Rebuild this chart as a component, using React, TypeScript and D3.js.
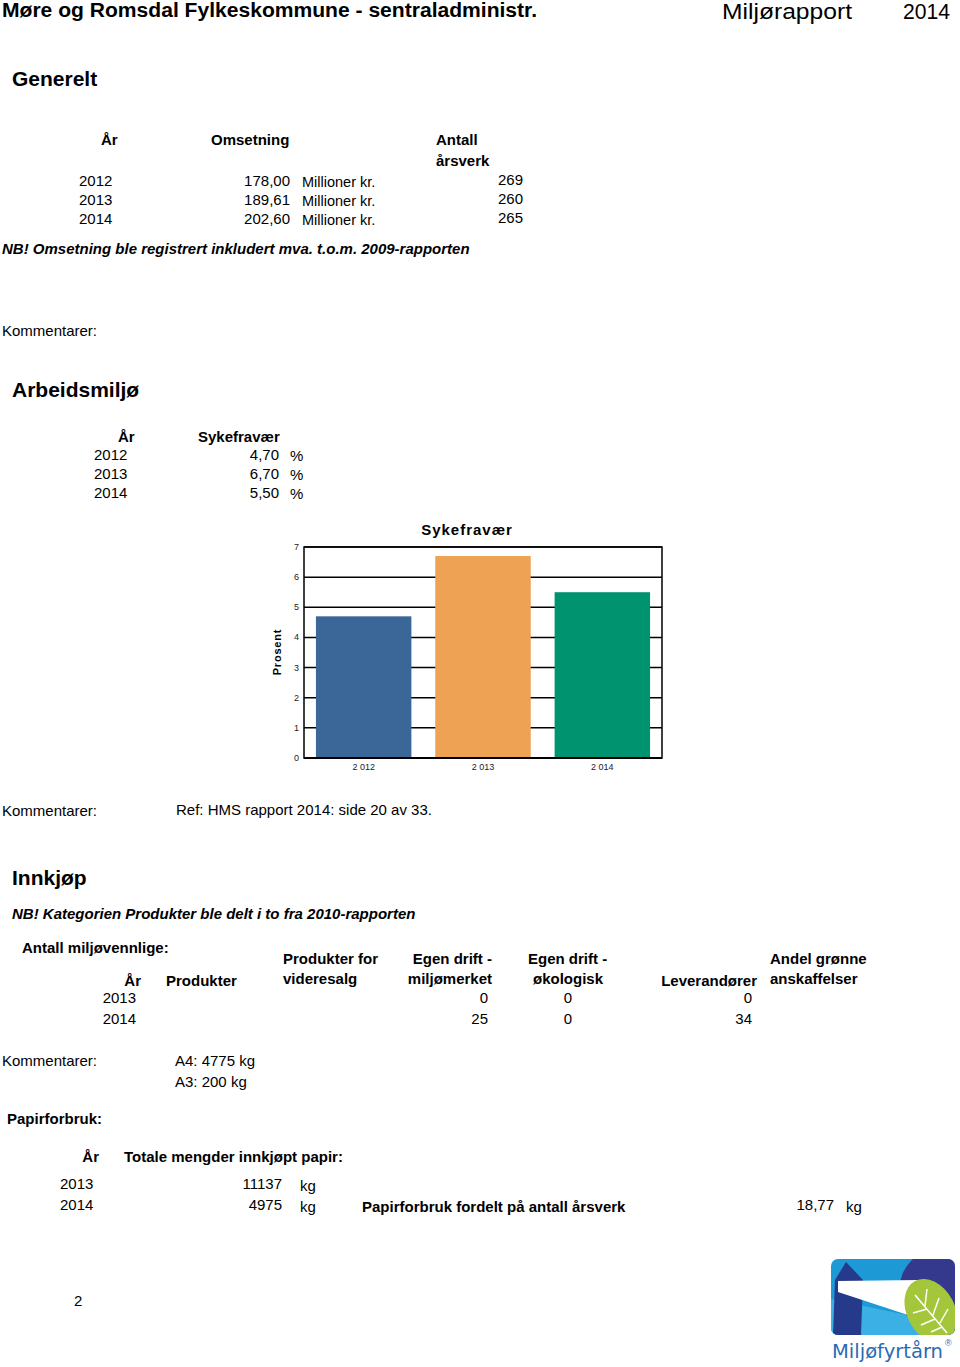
import React from 'react';
import * as d3 from 'd3';

// Sykefravær chart data
const years = [2012, 2013, 2014];
const sickLeave = [4.7, 6.7, 5.5];
const sickLeaveText = ['4,70', '6,70', '5,50'];
const yTicks = [0, 1, 2, 3, 4, 5, 6, 7];
const barColors = ['#3A6698', '#EEA253', '#00936F'];

// Generelt table
const turnover = ['178,00', '189,61', '202,60'];
const fte = [269, 260, 265];

// Innkjøp table
const buyYears = [2013, 2014];
const ecoLabelled = [0, 25];
const organic = [0, 0];
const suppliers = [0, 34];

// Papir
const paperYears = [2013, 2014];
const paperKg = [11137, 4975];
const paperPerFte = '18,77';

const SANS = "'Liberation Sans', Arial, sans-serif";

const spaced = d3.formatLocale({ decimal: ',', thousands: ' ', grouping: [3], currency: ['', ''] }).format(',d');

function T(props: any) {
  const { children, ...rest } = props;
  return (
    <text fontFamily={SANS} fontSize={15} fill="#000" {...rest}>
      {children}
    </text>
  );
}

function SickChart() {
  const left = 304, right = 662, top = 547, bottom = 758;
  const x = d3.scaleBand<number>().domain(years).range([left, right]).paddingInner(0.2).paddingOuter(0.1);
  const y = d3.scaleLinear().domain([0, 7]).range([bottom, top]);

  return (
    <g>
      {yTicks.map((t) => (
        <g key={t}>
          <line x1={left} x2={right} y1={y(t)} y2={y(t)} stroke="#000" strokeWidth={1.5} />
          <text x={left - 5} y={y(t) + 3} fontFamily={SANS} fontSize={9} textAnchor="end" fill="#222">{t}</text>
        </g>
      ))}
      {years.map((yr, i) => (
        <rect key={yr} x={x(yr)} y={y(sickLeave[i])} width={x.bandwidth()} height={bottom - y(sickLeave[i])} fill={barColors[i]} />
      ))}
      <rect x={left} y={top} width={right - left} height={bottom - top} fill="none" stroke="#000" strokeWidth={1.5} />
      <line x1={left} x2={right} y1={bottom} y2={bottom} stroke="#000" strokeWidth={2} />
      {years.map((yr) => (
        <text key={yr} x={(x(yr) as number) + x.bandwidth() / 2} y={770} fontFamily={SANS} fontSize={9} textAnchor="middle" fill="#222">
          {spaced(yr)}
        </text>
      ))}
      <text x={467} y={535} fontFamily={SANS} fontSize={15} fontWeight="bold" letterSpacing={1} textAnchor="middle">Sykefravær</text>
      <text transform="translate(281,652) rotate(-90)" fontFamily={SANS} fontSize={11} fontWeight="bold" letterSpacing={0.8} textAnchor="middle">Prosent</text>
    </g>
  );
}

function Logo() {
  return (
    <g transform="translate(831,1259)">
      <defs>
        <clipPath id="logoClip">
          <rect x={0} y={0} width={124} height={76} rx={7} />
        </clipPath>
      </defs>
      <g clipPath="url(#logoClip)">
        <rect x={0} y={0} width={124} height={76} fill="#1D9AD6" />
        <path d="M0,40 L85,58 L124,60 L124,76 L0,76 Z" fill="#3BB0E5" />
        <circle cx={112} cy={32} r={44} fill="#34398E" />
        <path d="M4,21 L15,3 L32,21 L30,76 L2,76 Z" fill="#253A8A" />
        <path d="M7,22 L88,21 L80,57 L7,33 Z" fill="#FFFFFF" />
        <ellipse cx={100} cy={52} rx={24} ry={34} transform="rotate(-28 100 52)" fill="#A4C63A" />
        <path d="M84,36 L116,74 M94,47 L96,30 M102,56 L108,39 M109,64 L117,50 M96,50 L82,54 M104,60 L90,66 M111,68 L100,73"
          stroke="#fff" strokeWidth={1.5} fill="none" />
      </g>
      <text x={1} y={99} fontFamily="'DejaVu Sans', sans-serif" fontSize={20} fill="#2A6BB3" textLength={111} lengthAdjust="spacingAndGlyphs">Miljøfyrtårn</text>
      <text x={114} y={87} fontFamily={SANS} fontSize={9} fill="#2A6BB3">®</text>
    </g>
  );
}

export default function App() {
  return (
    <svg width={960} height={1367} style={{ position: 'absolute', left: 0, top: 0, background: '#fff' }}>
      {/* header */}
      <T x={2} y={17} fontSize={20} fontWeight="bold" textLength={535} lengthAdjust="spacingAndGlyphs">Møre og Romsdal Fylkeskommune - sentraladministr.</T>
      <T x={722} y={19} fontSize={22} textLength={130} lengthAdjust="spacingAndGlyphs">Miljørapport</T>
      <T x={903} y={19} fontSize={22} textLength={47} lengthAdjust="spacingAndGlyphs">2014</T>

      {/* Generelt */}
      <T x={12} y={86} fontSize={21} fontWeight="bold">Generelt</T>
      <T x={101} y={145} fontWeight="bold">År</T>
      <T x={211} y={145} fontWeight="bold">Omsetning</T>
      <T x={436} y={145} fontWeight="bold">Antall</T>
      <T x={436} y={166} fontWeight="bold">årsverk</T>
      {years.map((yr, i) => (
        <g key={yr}>
          <T x={79} y={186 + i * 19}>{yr}</T>
          <T x={290} y={186 + i * 19} textAnchor="end">{turnover[i]}</T>
          <T x={302} y={187 + i * 19} fontSize={14.5}>Millioner kr.</T>
          <T x={523} y={185 + i * 19} textAnchor="end">{fte[i]}</T>
        </g>
      ))}
      <T x={2} y={254} fontWeight="bold" fontStyle="italic">NB! Omsetning ble registrert inkludert mva. t.o.m. 2009-rapporten</T>

      <T x={2} y={336}>Kommentarer:</T>

      {/* Arbeidsmiljø */}
      <T x={12} y={397} fontSize={21} fontWeight="bold">Arbeidsmiljø</T>
      <T x={118} y={442} fontWeight="bold">År</T>
      <T x={198} y={442} fontWeight="bold">Sykefravær</T>
      {years.map((yr, i) => (
        <g key={yr}>
          <T x={94} y={460 + i * 19}>{yr}</T>
          <T x={279} y={460 + i * 19} textAnchor="end">{sickLeaveText[i]}</T>
          <T x={290} y={461 + i * 19}>%</T>
        </g>
      ))}

      <SickChart />

      <T x={2} y={816}>Kommentarer:</T>
      <T x={176} y={815}>Ref: HMS rapport 2014: side 20 av 33.</T>

      {/* Innkjøp */}
      <T x={12} y={885} fontSize={21} fontWeight="bold">Innkjøp</T>
      <T x={12} y={919} fontWeight="bold" fontStyle="italic">NB! Kategorien Produkter ble delt i to fra 2010-rapporten</T>

      <T x={22} y={953} fontWeight="bold">Antall miljøvennlige:</T>
      <T x={283} y={964} fontWeight="bold">Produkter for</T>
      <T x={283} y={984} fontWeight="bold">videresalg</T>
      <T x={492} y={964} fontWeight="bold" textAnchor="end">Egen drift -</T>
      <T x={492} y={984} fontWeight="bold" textAnchor="end">miljømerket</T>
      <T x={528} y={964} fontWeight="bold">Egen drift -</T>
      <T x={533} y={984} fontWeight="bold">økologisk</T>
      <T x={770} y={964} fontWeight="bold">Andel grønne</T>
      <T x={770} y={984} fontWeight="bold">anskaffelser</T>
      <T x={141} y={986} fontWeight="bold" textAnchor="end">År</T>
      <T x={166} y={986} fontWeight="bold">Produkter</T>
      <T x={757} y={986} fontWeight="bold" textAnchor="end">Leverandører</T>
      {buyYears.map((yr, i) => (
        <g key={yr}>
          <T x={136} y={1003 + i * 21} textAnchor="end">{yr}</T>
          <T x={488} y={1003 + i * 21} textAnchor="end">{ecoLabelled[i]}</T>
          <T x={568} y={1003 + i * 21} textAnchor="middle">{organic[i]}</T>
          <T x={752} y={1003 + i * 21} textAnchor="end">{suppliers[i]}</T>
        </g>
      ))}

      <T x={2} y={1066}>Kommentarer:</T>
      <T x={175} y={1066}>A4: 4775 kg</T>
      <T x={175} y={1087}>A3: 200 kg</T>

      {/* Papir */}
      <T x={7} y={1124} fontWeight="bold">Papirforbruk:</T>
      <T x={99} y={1162} fontWeight="bold" textAnchor="end">År</T>
      <T x={124} y={1162} fontWeight="bold">Totale mengder innkjøpt papir:</T>
      {paperYears.map((yr, i) => (
        <g key={yr}>
          <T x={60} y={1189 + i * 21}>{yr}</T>
          <T x={282} y={1189 + i * 21} textAnchor="end">{paperKg[i]}</T>
          <T x={300} y={1191 + i * 21}>kg</T>
        </g>
      ))}
      <T x={362} y={1212} fontWeight="bold">Papirforbruk fordelt på antall årsverk</T>
      <T x={834} y={1210} textAnchor="end">{paperPerFte}</T>
      <T x={846} y={1212}>kg</T>

      <T x={74} y={1306}>2</T>

      <Logo />
    </svg>
  );
}
